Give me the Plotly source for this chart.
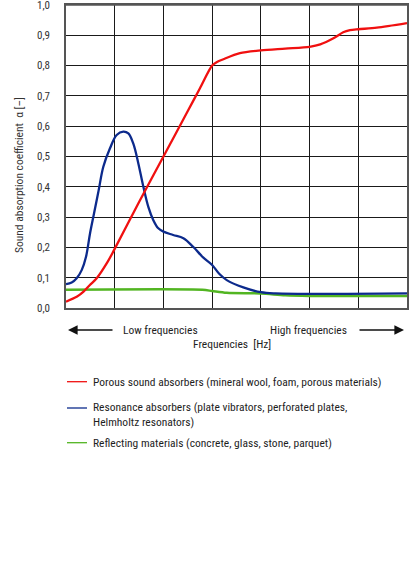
import plotly.graph_objects as go

# ---- data (x in grid units 0..7, y = absorption coefficient) ----
porous_x = [0, 0.22, 0.36, 0.49, 0.63, 0.835, 0.97, 1.5, 2.0, 2.5, 2.75, 3.0, 3.1, 3.23, 3.57, 4.0, 4.5, 5.0, 5.22, 5.49, 5.69, 5.83, 6.0, 6.38, 7.0]
porous_y = [0.021, 0.037, 0.054, 0.076, 0.098, 0.147, 0.186, 0.35, 0.5, 0.65, 0.725, 0.8, 0.812, 0.821, 0.841, 0.85, 0.856, 0.862, 0.87, 0.89, 0.91, 0.917, 0.92, 0.925, 0.94]

reson_x = [0, 0.117, 0.219, 0.322, 0.411, 0.493, 0.575, 0.671, 0.766, 0.903, 1.04, 1.177, 1.28, 1.38, 1.485, 1.588, 1.69, 1.793, 1.895, 2.0, 2.2, 2.41, 2.61, 2.82, 3.0, 3.15, 3.3, 3.64, 4.0, 4.3, 7.0]
reson_y = [0.079, 0.084, 0.098, 0.125, 0.169, 0.246, 0.312, 0.389, 0.466, 0.527, 0.571, 0.582, 0.576, 0.543, 0.477, 0.40, 0.334, 0.29, 0.263, 0.252, 0.241, 0.23, 0.202, 0.166, 0.142, 0.112, 0.092, 0.068, 0.052, 0.048, 0.048]

reflect_x = [0, 2.8, 3.0, 3.3, 4.0, 4.5, 5.0, 7.0]
reflect_y = [0.06, 0.06, 0.056, 0.05, 0.048, 0.042, 0.04, 0.04]

y_ticks = [0.0, 0.1, 0.2, 0.3, 0.4, 0.5, 0.6, 0.7, 0.8, 0.9, 1.0]
y_tick_labels = ["0,0", "0,1", "0,2", "0,3", "0,4", "0,5", "0,6", "0,7", "0,8", "0,9", "1,0"]
x_grid = [0, 1, 2, 3, 4, 5, 6, 7]

series_names = [
    "Porous sound absorbers (mineral wool, foam, porous materials)",
    "Resonance absorbers (plate vibrators, perforated plates,<br>Helmholtz resonators)",
    "Reflecting materials (concrete, glass, stone, parquet)",
]

RED = "#f01010"
BLUE = "#0c2a8c"
GREEN = "#52b522"

FONT = "Liberation Sans Narrow, Roboto Condensed, Roboto, sans-serif"
TXT = "#1e1e1e"

W, H = 416, 563
L, R, T, B = 66, 407, 5, 308


def xp(px):
    return (px - L) / (R - L)


def yp(py):
    return (B - py) / (B - T)


fig = go.Figure()
fig.add_trace(go.Scatter(x=reflect_x, y=reflect_y, mode="lines",
                         line=dict(color=GREEN, width=2.5, shape="spline", smoothing=0.8),
                         showlegend=False, hoverinfo="skip"))
fig.add_trace(go.Scatter(x=reson_x, y=reson_y, mode="lines",
                         line=dict(color=BLUE, width=2.3, shape="spline", smoothing=1.0),
                         showlegend=False, hoverinfo="skip"))
fig.add_trace(go.Scatter(x=porous_x, y=porous_y, mode="lines",
                         line=dict(color=RED, width=2.3, shape="spline", smoothing=0.8),
                         showlegend=False, hoverinfo="skip"))

fig.update_layout(
    width=W, height=H,
    margin=dict(l=L, r=W - R, t=T, b=H - B, pad=0, autoexpand=False),
    paper_bgcolor="white", plot_bgcolor="white",
    font=dict(family=FONT, size=11.5, color=TXT),
    showlegend=False,
)
fig.update_xaxes(range=[0, 7], tickvals=x_grid, showticklabels=False, automargin=False,
                 showgrid=True, gridcolor="#1a1a1a", gridwidth=1, zeroline=False,
                 showline=True, linecolor="#555555", linewidth=1.5, mirror=True, ticks="")
fig.update_yaxes(range=[0, 1], tickvals=y_ticks, ticktext=y_tick_labels, automargin=False,
                 showgrid=True, gridcolor="#1a1a1a", gridwidth=1, zeroline=False,
                 showline=True, linecolor="#555555", linewidth=1.5, mirror=True, ticks="",
                 ticklabelstandoff=12, ticklabeloverflow="allow",
                 tickfont=dict(size=11, color="#333333", family=FONT))

ann = []
ann.append(dict(text="Sound absorption coefficient  α [–]", x=xp(10), y=yp(175), xref="paper", yref="paper",
                textangle=-90, showarrow=False, font=dict(size=11.5, color="#333333")))
ann.append(dict(text="Low frequencies", x=xp(160), y=yp(330), xref="paper", yref="paper",
                showarrow=False, xanchor="center", yanchor="middle"))
ann.append(dict(text="High frequencies", x=xp(308), y=yp(330), xref="paper", yref="paper",
                showarrow=False, xanchor="center", yanchor="middle"))
ann.append(dict(text="Frequencies  [Hz]", x=xp(232), y=yp(344), xref="paper", yref="paper",
                showarrow=False, xanchor="center", yanchor="middle"))
# arrows
ann.append(dict(text="", x=xp(68), y=yp(330), ax=46, ay=0, xref="paper", yref="paper",
                axref="pixel", ayref="pixel", showarrow=True, arrowhead=2, arrowsize=1.2,
                arrowwidth=1.6, arrowcolor="#111111"))
ann.append(dict(text="", x=xp(404), y=yp(330), ax=-46, ay=0, xref="paper", yref="paper",
                axref="pixel", ayref="pixel", showarrow=True, arrowhead=2, arrowsize=1.2,
                arrowwidth=1.6, arrowcolor="#111111"))

legend_rows = [381.7, 414.5, 442.7]
legend_line_rows = [381.7, 408, 442.7]
colors = [RED, BLUE, GREEN]
shapes = [dict(type="line", xref="paper", yref="paper", x0=0, x1=1, y0=1, y1=1,
               line=dict(color="#555555", width=1.5))]
for name, ty, ly, c in zip(series_names, legend_rows, legend_line_rows, colors):
    ann.append(dict(text=name, x=xp(91), y=yp(ty), xref="paper", yref="paper",
                    showarrow=False, xanchor="left", yanchor="middle", align="left"))
    shapes.append(dict(type="line", xref="paper", yref="paper", x0=xp(67), x1=xp(87),
                       y0=yp(ly), y1=yp(ly), line=dict(color=c, width=1.3)))

fig.update_layout(annotations=ann, shapes=shapes)
fig.write_html("out.html", config={"displayModeBar": False},
               post_script="document.body.style.margin='0';document.body.style.overflow='hidden';")
